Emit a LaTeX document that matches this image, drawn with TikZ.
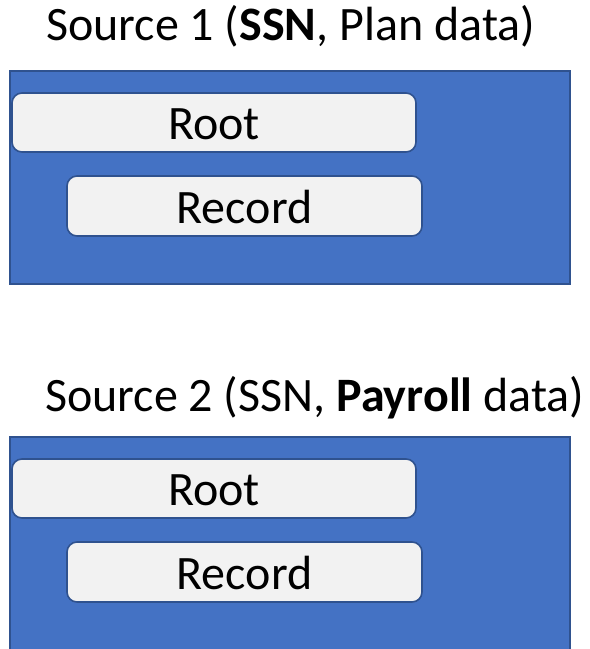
\documentclass[tikz,border=0pt]{standalone}
\usepackage{fontspec}
\setmainfont{Carlito}
\definecolor{panelblue}{HTML}{4472C4}
\definecolor{paneledge}{HTML}{2F528F}
\definecolor{boxfill}{HTML}{F2F2F2}
\begin{document}
\begin{tikzpicture}[x=1pt,y=-1pt,
  panel/.style={fill=panelblue,draw=paneledge,line width=1.8pt},
  field/.style={fill=boxfill,draw=paneledge,line width=1.6pt,rounded corners=10pt},
  lbl/.style={font=\fontsize{48}{52}\selectfont,anchor=base,inner sep=0pt},
  heading/.style={font=\fontsize{48}{52}\selectfont,anchor=base west,inner sep=0pt}]
\useasboundingbox (0,0) rectangle (590,649);
\clip (0,0) rectangle (590,649);
% first source
\node[heading] (t1) at (46,40) {Source 1 (\textbf{SSN}, Plan data)};
\draw[panel] (10,71) rectangle (570,284);
\draw[field] (12,93) rectangle (416,152);
\node[lbl] (root1) at (214,139) {Root};
\draw[field] (67,176) rectangle (422,236);
\node[lbl] (rec1) at (244.5,223) {Record};
% second source
\node[heading] (t2) at (45,411) {Source 2 (SSN, \textbf{Payroll} data)};
\draw[panel] (10,437) rectangle (570,660);
\draw[field] (12,459) rectangle (416,518);
\node[lbl] (root2) at (214,505) {Root};
\draw[field] (67,542) rectangle (422,602);
\node[lbl] (rec2) at (244.5,589) {Record};
\end{tikzpicture}
\end{document}
